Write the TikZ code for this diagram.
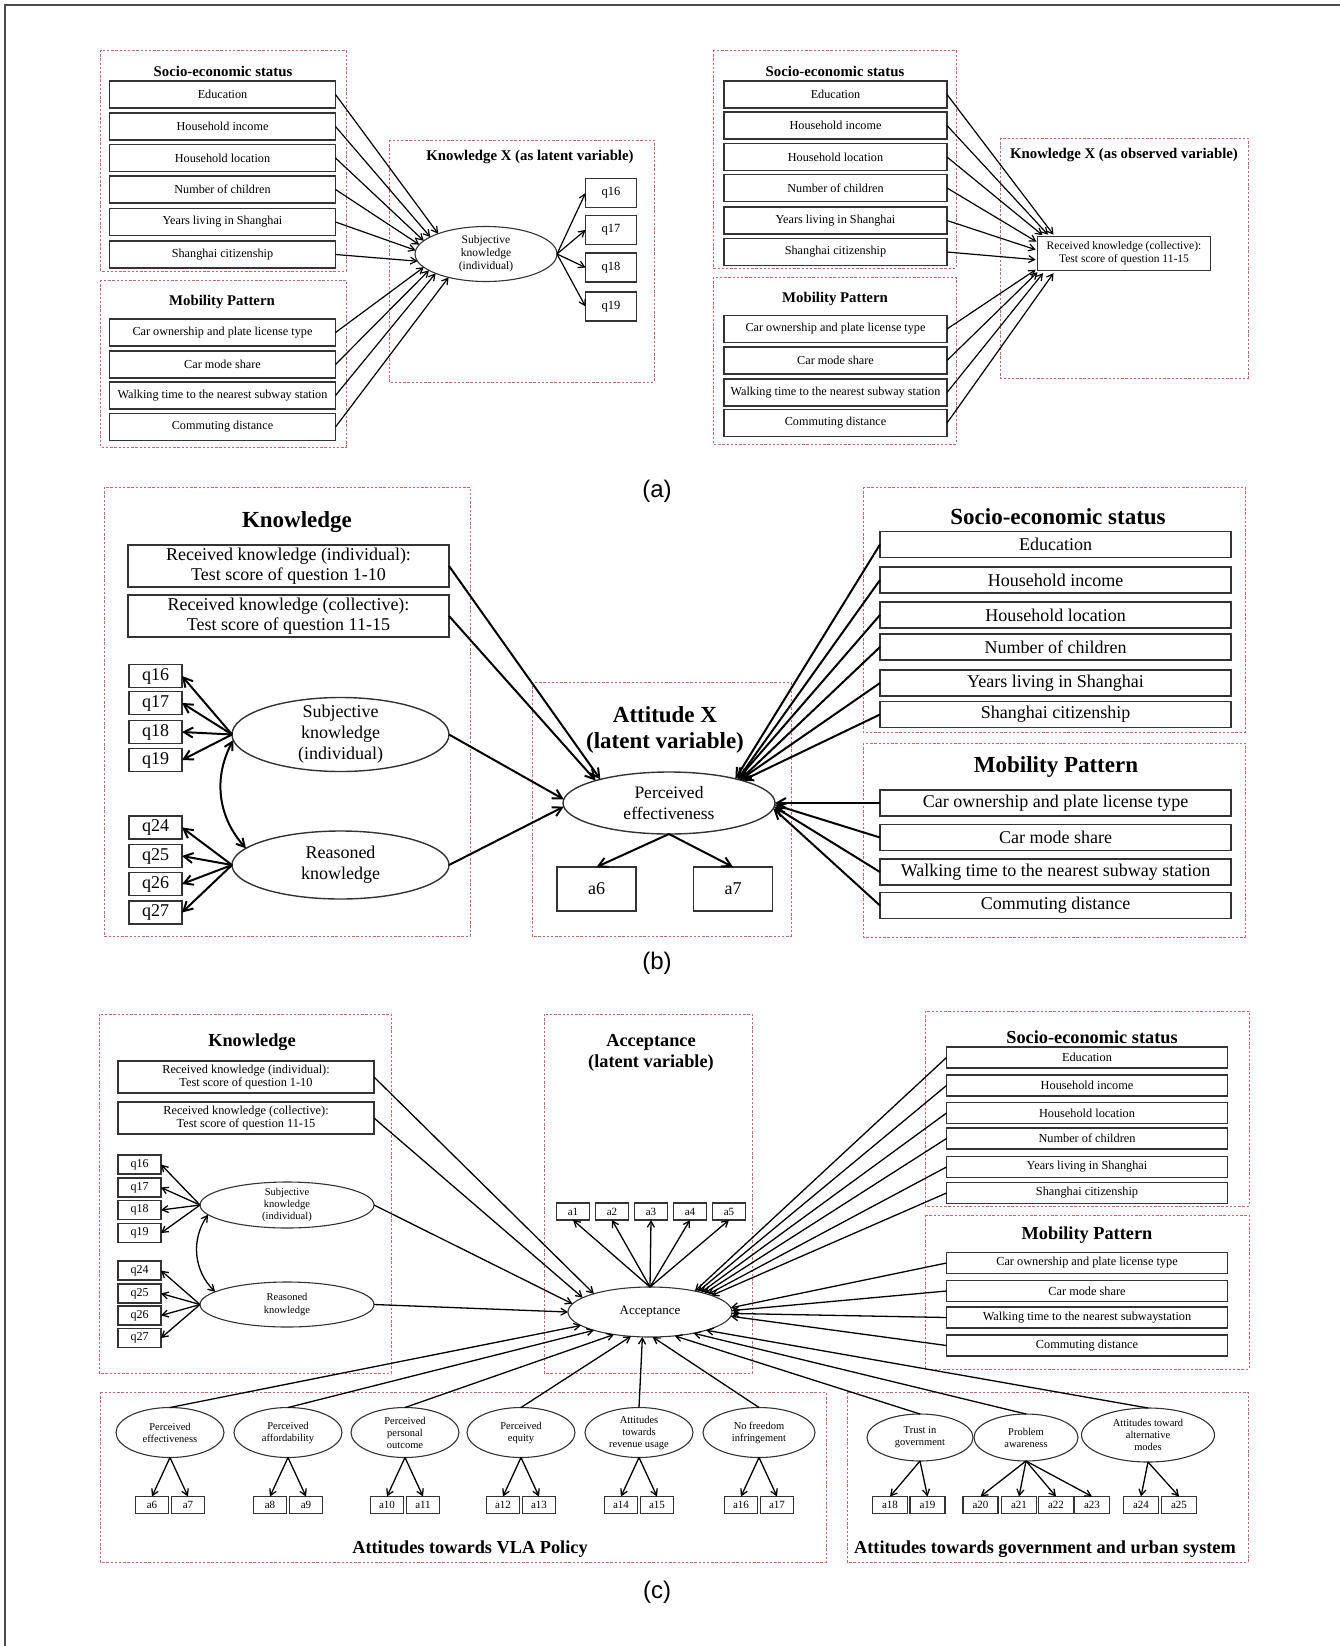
\documentclass[tikz,border=0pt]{standalone}
\usepackage{fontspec}
\setmainfont{Liberation Serif}
\newfontfamily\capfont{Liberation Sans}
\usetikzlibrary{shapes.geometric,arrows.meta,calc}
\definecolor{dashred}{RGB}{205,100,105}
\newcommand{\myfs}[2]{\fontsize{#1}{#2}\selectfont}
\begin{document}
\begin{tikzpicture}[x=1pt,y=-1pt,
  every node/.style={inner sep=0pt,outer sep=0pt},
  dbox/.style={draw=dashred,line width=0.9pt,dash pattern=on 2.4pt off 1.8pt},
  sb/.style={draw=black!80,rectangle,align=center},
  el/.style={draw=black!80,ellipse},
  tA/.style={font=\bfseries\myfs{14.8}{17}},
  tB/.style={font=\bfseries\myfs{23}{26}},
  tC/.style={font=\bfseries\myfs{18.3}{21}},
  bA/.style={sb,line width=1.3pt,minimum width=226,minimum height=27,font=\myfs{12.2}{14}},
  bA2/.style={bA,minimum width=223},
  qA/.style={sb,line width=1.3pt,minimum width=51,minimum height=29,font=\myfs{12.5}{14}},
  bB/.style={sb,line width=1.6pt,minimum width=351,minimum height=26,font=\myfs{18}{20}},
  rB/.style={sb,line width=1.6pt,minimum width=321,minimum height=42,font=\myfs{18}{19.5}},
  qB/.style={sb,line width=1.6pt,minimum width=53,minimum height=23,font=\myfs{18}{20}},
  bC/.style={sb,line width=1.1pt,minimum width=281,minimum height=21,font=\myfs{12.3}{14}},
  rC/.style={sb,line width=1.1pt,minimum width=256,minimum height=32,font=\myfs{12.3}{13.5}},
  qC/.style={sb,line width=1.1pt,minimum width=43,minimum height=19,font=\myfs{12}{14}},
  aC/.style={sb,line width=1.1pt,minimum width=33,minimum height=17,font=\myfs{11}{13}},
  arA/.style={-{Straight Barb[length=6pt,width=7pt]},line width=1.2pt},
  arB/.style={-{Straight Barb[length=9pt,width=10pt]},line width=2pt},
  arC/.style={-{Straight Barb[length=6pt,width=7pt]},line width=1.3pt},
  capst/.style={font=\capfont\myfs{24}{28}},
]
\useasboundingbox (0,0) rectangle (1340,1646);
\draw[black!70,line width=1.5pt] (5,1646) -- (5,5) -- (1340,5);

%================ (a) left
\draw[dbox] (100.7,50) rectangle (346,271);
\draw[dbox] (100.7,280) rectangle (346,447);
\draw[dbox] (389,140) rectangle (654,382);
\node[tA] (aLt1) at (223,71) {Socio-economic status};
\node[bA] (aL1) at (222.5,94.5) {Education};
\node[bA] (aL2) at (222.5,126.5) {Household income};
\node[bA] (aL3) at (222.5,158) {Household location};
\node[bA] (aL4) at (222.5,189.5) {Number of children};
\node[bA] (aL5) at (222.5,222) {Years living in Shanghai};
\node[bA] (aL6) at (222.5,254.5) {Shanghai citizenship};
\node[tA] (aLt2) at (222,302) {Mobility Pattern};
\node[bA] (aL7) at (222.5,332.5) {Car ownership and plate license type};
\node[bA] (aL8) at (222.5,364.5) {Car mode share};
\node[bA] (aL9) at (222.5,395.5) {Walking time to the nearest subway station};
\node[bA] (aL10) at (222.5,427) {Commuting distance};
\node[tA] (aLt3) at (530,157) {Knowledge X (as latent variable)};
\node[el,line width=1.1pt,minimum width=142,minimum height=55,
  label={[font=\myfs{11.5}{13},align=center]center:Subjective\\knowledge\\(individual)}] (aLE) at (486,254) {};
\node[qA] (aq16) at (611,193) {q16};
\node[qA] (aq17) at (611,230) {q17};
\node[qA] (aq18) at (611,267.5) {q18};
\node[qA] (aq19) at (611,306.5) {q19};
\foreach \n/\a in {aL1/157.7,aL2/163,aL3/168,aL4/172.9,aL5/177,aL6/186.7,aL7/192,aL8/196,aL9/201,aL10/212}
  \draw[arA] (\n.east) -- (aLE.\a);
\foreach \n in {aq16,aq17,aq18,aq19}
  \draw[arA] (aLE.east) -- (\n.west);

%================ (a) right
\draw[dbox] (713,50) rectangle (956,268);
\draw[dbox] (713,277) rectangle (956,444);
\draw[dbox] (1000,138) rectangle (1248,378);
\node[tA] (aRt1) at (835,71) {Socio-economic status};
\node[bA2] (aR1) at (835.5,94.5) {Education};
\node[bA2] (aR2) at (835.5,125.5) {Household income};
\node[bA2] (aR3) at (835.5,157) {Household location};
\node[bA2] (aR4) at (835.5,188) {Number of children};
\node[bA2] (aR5) at (835.5,220.5) {Years living in Shanghai};
\node[bA2] (aR6) at (835.5,252) {Shanghai citizenship};
\node[tA] (aRt2) at (835,299) {Mobility Pattern};
\node[bA2] (aR7) at (835.5,329) {Car ownership and plate license type};
\node[bA2] (aR8) at (835.5,360.5) {Car mode share};
\node[bA2] (aR9) at (835.5,392.5) {Walking time to the nearest subway station};
\node[bA2] (aR10) at (835.5,423) {Commuting distance};
\node[tA] (aRt3) at (1124,155) {Knowledge X (as observed variable)};
\node[sb,line width=1.3pt,minimum width=173,minimum height=34,font=\myfs{11.5}{13}] (aRK) at (1124,253.7)
  {Received knowledge (collective):\\Test score of question 11-15};
\draw[arA] (aR1.east) -- ($(aRK.north west)+(16,-2)$);
\draw[arA] (aR2.east) -- ($(aRK.north west)+(10.5,-2)$);
\draw[arA] (aR3.east) -- ($(aRK.north west)+(5,-1.5)$);
\draw[arA] (aR4.east) -- ($(aRK.north west)+(-1,5)$);
\draw[arA] (aR5.east) -- ($(aRK.north west)+(-1.8,13)$);
\draw[arA] (aR6.east) -- ($(aRK.north west)+(-1.8,23)$);
\draw[arA] (aR7.east) -- ($(aRK.south west)+(-1.8,-1)$);
\draw[arA] (aR8.east) -- ($(aRK.south west)+(0,1.5)$);
\draw[arA] (aR9.east) -- ($(aRK.south west)+(5.5,2.5)$);
\draw[arA] (aR10.east) -- ($(aRK.south west)+(16,2.5)$);

\node[capst] (capA) at (657,491) {(a)};

%================ (b)
\draw[dbox] (104,487) rectangle (470,936);
\draw[dbox] (532,682) rectangle (791,936);
\draw[dbox] (863,487) rectangle (1245,732);
\draw[dbox] (863,743) rectangle (1245,937);
\node[tB] (bKt) at (297,522) {Knowledge};
\node[rB] (bRK1) at (288.5,566) {Received knowledge (individual):\\Test score of question 1-10};
\node[rB] (bRK2) at (288.5,616) {Received knowledge (collective):\\Test score of question 11-15};
\node[qB] (bq16) at (155.5,676) {q16};
\node[qB] (bq17) at (155.5,703) {q17};
\node[qB] (bq18) at (155.5,732) {q18};
\node[qB] (bq19) at (155.5,760) {q19};
\node[qB] (bq24) at (155.5,827.5) {q24};
\node[qB] (bq25) at (155.5,856) {q25};
\node[qB] (bq26) at (155.5,884) {q26};
\node[qB] (bq27) at (155.5,912.5) {q27};
\node[el,line width=1.4pt,minimum width=217,minimum height=74,
  label={[font=\myfs{18}{21},align=center]center:Subjective\\knowledge\\(individual)}] (bSubj) at (340.5,734.5) {};
\node[el,line width=1.4pt,minimum width=217,minimum height=68,
  label={[font=\myfs{18}{21},align=center]center:Reasoned\\knowledge}] (bReas) at (340.5,865) {};
\node[tB] (bAt1) at (665,715) {Attitude X};
\node[tB] (bAt2) at (665,743) {(latent variable)};
\node[el,line width=1.4pt,minimum width=212,minimum height=62,
  label={[font=\myfs{17.5}{21},align=center]center:Perceived\\effectiveness}] (pe) at (669,803) {};
\node[sb,line width=1.6pt,minimum width=79,minimum height=44,font=\myfs{18}{20}] (ba6) at (596.5,889) {a6};
\node[sb,line width=1.6pt,minimum width=79,minimum height=44,font=\myfs{18}{20}] (ba7) at (733,889) {a7};
\node[tB] (bSt) at (1058,517) {Socio-economic status};
\node[bB] (bS1) at (1055.5,544.5) {Education};
\node[bB] (bS2) at (1055.5,580) {Household income};
\node[bB] (bS3) at (1055.5,615) {Household location};
\node[bB] (bS4) at (1055.5,647) {Number of children};
\node[bB] (bS5) at (1055.5,683) {Years living in Shanghai};
\node[bB] (bS6) at (1055.5,714.5) {Shanghai citizenship};
\node[tB] (bMt) at (1056,767) {Mobility Pattern};
\node[bB] (bM1) at (1055.5,803) {Car ownership and plate license type};
\node[bB] (bM2) at (1055.5,837.5) {Car mode share};
\node[bB] (bM3) at (1055.5,872) {Walking time to the nearest subway station};
\node[bB] (bM4) at (1055.5,905.5) {Commuting distance};
\draw[arB] (bRK1.east) -- (pe.161);
\draw[arB] (bRK2.east) -- (pe.163);
\draw[arB] (bSubj.east) -- (pe.178);
\draw[arB] (bReas.east) -- (pe.182);
\foreach \n/\a in {bS1/20,bS2/19.5,bS3/19,bS4/18.5,bS5/18,bS6/17,bM1/0,bM2/-1,bM3/-2,bM4/-3}
  \draw[arB] (\n.west) -- (pe.\a);
\draw[arB] (pe.south) -- (ba6.north);
\draw[arB] (pe.south) -- (ba7.north);
\foreach \n in {bq16,bq17,bq18,bq19}
  \draw[arB] (bSubj.west) -- (\n.east);
\foreach \n in {bq24,bq25,bq26,bq27}
  \draw[arB] (bReas.west) -- (\n.east);
\draw[{Straight Barb[length=8pt,width=9pt]}-{Straight Barb[length=8pt,width=9pt]},line width=2pt]
  (bSubj.183) to[bend right=35] (bReas.170);

\node[capst] (capB) at (657,963) {(b)};

%================ (c)
\draw[dbox] (99,1014) rectangle (391,1373);
\draw[dbox] (544,1014) rectangle (752,1373);
\draw[dbox] (925,1011) rectangle (1249,1206);
\draw[dbox] (925,1215) rectangle (1249,1369);
\draw[dbox] (100,1392) rectangle (826,1562);
\draw[dbox] (847,1392) rectangle (1248,1562);
\node[tC] (cKt) at (252,1042) {Knowledge};
\node[rC] (cRK1) at (246,1077) {Received knowledge (individual):\\Test score of question 1-10};
\node[rC] (cRK2) at (246,1118) {Received knowledge (collective):\\Test score of question 11-15};
\node[qC] (cq16) at (139.5,1164.5) {q16};
\node[qC] (cq17) at (139.5,1187.5) {q17};
\node[qC] (cq18) at (139.5,1210) {q18};
\node[qC] (cq19) at (139.5,1233) {q19};
\node[qC] (cq24) at (139.5,1270.5) {q24};
\node[qC] (cq25) at (139.5,1293.5) {q25};
\node[qC] (cq26) at (139.5,1315.5) {q26};
\node[qC] (cq27) at (139.5,1338) {q27};
\node[el,line width=1.1pt,minimum width=174,minimum height=46,
  label={[font=\myfs{10.5}{12},align=center]center:Subjective\\knowledge\\(individual)}] (cSubj) at (287,1205) {};
\node[el,line width=1.1pt,minimum width=174,minimum height=45,
  label={[font=\myfs{10.5}{12.5},align=center]center:Reasoned\\knowledge}] (cReas) at (287,1304.5) {};
\node[tC] (cAt1) at (651,1042) {Acceptance};
\node[tC] (cAt2) at (651,1063) {(latent variable)};
\node[aC] (ca1) at (573,1211.5) {a1};
\node[aC] (ca2) at (612,1211.5) {a2};
\node[aC] (ca3) at (651,1211.5) {a3};
\node[aC] (ca4) at (690,1211.5) {a4};
\node[aC] (ca5) at (729,1211.5) {a5};
\node[el,line width=1.1pt,minimum width=164,minimum height=50,
  label={[font=\myfs{13}{15}]center:Acceptance}] (acc) at (650,1312) {};
\node[tC] (cSt) at (1092,1037) {Socio-economic status};
\node[bC] (cS1) at (1087,1057.5) {Education};
\node[bC] (cS2) at (1087,1085.5) {Household income};
\node[bC] (cS3) at (1087,1113) {Household location};
\node[bC] (cS4) at (1087,1138.5) {Number of children};
\node[bC] (cS5) at (1087,1167) {Years living in Shanghai};
\node[bC] (cS6) at (1087,1193) {Shanghai citizenship};
\node[tC] (cMt) at (1087,1235) {Mobility Pattern};
\node[bC] (cM1) at (1087,1263) {Car ownership and plate license type};
\node[bC] (cM2) at (1087,1291) {Car mode share};
\node[bC] (cM3) at (1087,1317.5) {Walking time to the nearest subwaystation};
\node[bC] (cM4) at (1087,1345.5) {Commuting distance};
% VLA attitudes
\node[el,line width=1.1pt,minimum width=108,minimum height=50,
  label={[font=\myfs{10.5}{12},align=center]center:Perceived\\effectiveness}] (cPE) at (170,1432.5) {};
\node[el,line width=1.1pt,minimum width=108,minimum height=50,
  label={[font=\myfs{10.5}{12},align=center]center:Perceived\\affordability}] (cPA) at (288,1432.5) {};
\node[el,line width=1.1pt,minimum width=108,minimum height=50,
  label={[font=\myfs{10.5}{12},align=center]center:Perceived\\personal\\outcome}] (cPO) at (405,1432.5) {};
\node[el,line width=1.1pt,minimum width=108,minimum height=50,
  label={[font=\myfs{10.5}{12},align=center]center:Perceived\\equity}] (cPQ) at (521,1432.5) {};
\node[el,line width=1.1pt,minimum width=108,minimum height=50,
  label={[font=\myfs{10.5}{12},align=center]center:Attitudes\\towards\\revenue usage}] (cRU) at (639,1432.5) {};
\node[el,line width=1.1pt,minimum width=112,minimum height=50,
  label={[font=\myfs{10.5}{12},align=center]center:No freedom\\infringement}] (cNF) at (759,1432.5) {};
\node[aC] (ca6) at (152,1505) {a6};
\node[aC] (ca7) at (188,1505) {a7};
\node[aC] (ca8) at (270,1505) {a8};
\node[aC] (ca9) at (306,1505) {a9};
\node[aC] (ca10) at (387,1505) {a10};
\node[aC] (ca11) at (423,1505) {a11};
\node[aC] (ca12) at (503,1505) {a12};
\node[aC] (ca13) at (539,1505) {a13};
\node[aC] (ca14) at (621,1505) {a14};
\node[aC] (ca15) at (657,1505) {a15};
\node[aC] (ca16) at (741,1505) {a16};
\node[aC] (ca17) at (777,1505) {a17};
\node[tC] (cVt) at (470,1549) {Attitudes towards VLA Policy};
% government attitudes
\node[el,line width=1.1pt,minimum width=106,minimum height=47,
  label={[font=\myfs{10.5}{12},align=center]center:Trust in\\government}] (cTG) at (920,1437.5) {};
\node[el,line width=1.1pt,minimum width=104,minimum height=47,
  label={[font=\myfs{10.5}{12},align=center]center:Problem\\awareness}] (cPW) at (1026,1437.5) {};
\node[el,line width=1.1pt,minimum width=133,minimum height=54,
  label={[font=\myfs{10.5}{12},align=center]center:Attitudes toward\\alternative\\modes}] (cAM) at (1148,1435) {};
\node[aC,minimum width=35] (ca18) at (890,1505) {a18};
\node[aC,minimum width=35] (ca19) at (927.5,1505) {a19};
\node[aC,minimum width=35] (ca20) at (980.5,1505) {a20};
\node[aC,minimum width=35] (ca21) at (1019,1505) {a21};
\node[aC,minimum width=35] (ca22) at (1056,1505) {a22};
\node[aC,minimum width=35] (ca23) at (1092,1505) {a23};
\node[aC,minimum width=35] (ca24) at (1141,1505) {a24};
\node[aC,minimum width=35] (ca25) at (1179,1505) {a25};
\node[tC] (cGt) at (1045,1549) {Attitudes towards government and urban system};
% arrows (c)
\foreach \n in {cq16,cq17,cq18,cq19}
  \draw[arC] (cSubj.west) -- (\n.east);
\foreach \n in {cq24,cq25,cq26,cq27}
  \draw[arC] (cReas.west) -- (\n.east);
\draw[{Straight Barb[length=6pt,width=7pt]}-{Straight Barb[length=6pt,width=7pt]},line width=1.3pt]
  (cSubj.187) to[bend right=40] (cReas.170);
\draw[arC] (cRK1.east) -- (acc.162);
\draw[arC] (cRK2.east) -- (acc.168);
\draw[arC] (cSubj.east) -- (acc.174);
\draw[arC] (cReas.east) -- (acc.180);
\foreach \n in {ca1,ca2,ca3,ca4,ca5}
  \draw[arC] (acc.north) -- (\n.south);
\foreach \n/\a in {cS1/25,cS2/23,cS3/21,cS4/19,cS5/17,cS6/15,cM1/3,cM2/1,cM3/-1,cM4/-3}
  \draw[arC] (\n.west) -- (acc.\a);
\foreach \n/\a in {cPE/191,cPA/198,cPO/212,cPQ/232,cRU/253,cNF/276,cTG/316,cPW/334,cAM/342}
  \draw[arC] (\n.north) -- (acc.\a);
\foreach \e/\l/\r in {cPE/ca6/ca7,cPA/ca8/ca9,cPO/ca10/ca11,cPQ/ca12/ca13,cRU/ca14/ca15,cNF/ca16/ca17,cTG/ca18/ca19,cAM/ca24/ca25}
  {\draw[arC] (\e.south) -- (\l.north); \draw[arC] (\e.south) -- (\r.north);}
\foreach \n in {ca20,ca21,ca22,ca23}
  \draw[arC] (cPW.south) -- (\n.north);

\node[capst] (capC) at (657,1592) {(c)};
\end{tikzpicture}
\end{document}
